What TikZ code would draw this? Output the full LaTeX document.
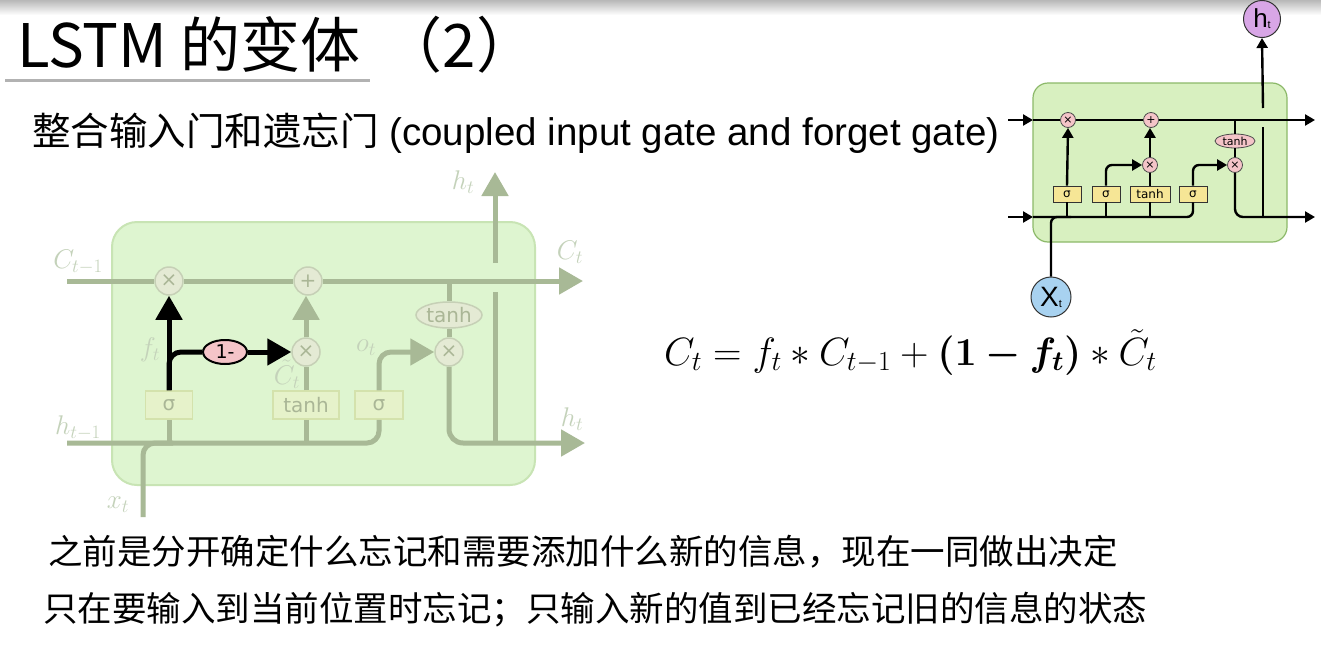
\RequirePackage{fix-cm}
\documentclass[tikz,border=0pt]{standalone}
\usepackage{fontspec}
\usepackage{amsmath,bm}
\setmainfont{Liberation Sans}
\newfontfamily\cjk{Noto Sans CJK SC}
\newfontfamily\dv{DejaVu Sans}
\usetikzlibrary{arrows.meta,shapes.geometric,calc}
\definecolor{fline}{RGB}{168,185,150}
\definecolor{flabel}{RGB}{196,210,186}
\definecolor{fbox}{RGB}{222,245,208}
\definecolor{fboxd}{RGB}{200,228,180}
\definecolor{fcircf}{RGB}{228,234,212}
\definecolor{fcircd}{RGB}{198,208,182}
\definecolor{fsig}{RGB}{230,242,202}
\definecolor{fsigd}{RGB}{212,226,172}
\definecolor{ftext}{RGB}{170,182,150}
\definecolor{pinkf}{RGB}{244,196,200}
\definecolor{sbox}{RGB}{216,240,192}
\definecolor{sboxd}{RGB}{140,185,105}
\definecolor{yel}{RGB}{246,230,150}
\definecolor{blu}{RGB}{168,210,240}
\definecolor{pur}{RGB}{216,166,230}
\tikzset{
  fl/.style={line width=5pt, draw=fline},
  fa/.style={-{Triangle[length=24pt,width=26pt]}},
  bl/.style={line width=5pt, draw=black},
  fcirc/.style={circle, draw=fcircd, fill=fcircf, line width=1.5pt, minimum size=28pt, inner sep=0pt, text=ftext, font=\dv\fontsize{20}{20}\selectfont},
  fgate/.style={rectangle, draw=fsigd, fill=fsig, line width=1.5pt, minimum height=28pt, inner sep=0pt, text=ftext, font=\dv\fontsize{20}{20}\selectfont},
  flab/.style={text=flabel, inner sep=0pt, font=\fontsize{27}{27}\selectfont},
  sl/.style={line width=2.4pt, draw=black},
  sa/.style={-{Triangle[length=10pt,width=11pt]}},
  scirc/.style={circle, draw=black!70, fill=pinkf, line width=0.8pt, minimum size=15pt, inner sep=0pt, font=\dv\fontsize{11}{11}\selectfont},
  sgate/.style={rectangle, draw=black!80, fill=yel, line width=0.8pt, minimum height=16pt, inner sep=0pt, font=\dv\fontsize{12}{12}\selectfont},
  txt/.style={anchor=west, inner sep=0pt},
}
\begin{document}
\begin{tikzpicture}[x=1pt,y=-1pt]
\useasboundingbox (0,0) rectangle (1321,645);
\fill[white] (0,0) rectangle (1321,645);
\shade[top color=black!28, bottom color=white] (0,0) rectangle (1321,15);

% title
\node[txt, font=\cjk\fontsize{60}{60}\selectfont] (title) at (17,45) {LSTM 的变体\hspace{22pt}（2）};
\coordinate (ul1) at (5,80); \coordinate (ul2) at (370,80);
\draw[line width=3pt, draw=black!30] (ul1) -- (ul2);
\node[txt, font=\fontsize{38.5}{40}\selectfont] (sub) at (32,133) {{\cjk 整合输入门和遗忘门} (coupled input gate and forget gate)};

% ===== left (faded) diagram =====
\fill[fbox, draw=fboxd, line width=2pt, rounded corners=25pt] (112,222) rectangle (535,485);
\node[fcirc] (fx1) at (169,281) {×};
\node[fcirc] (fpl) at (308,281) {+};
\node[fcirc] (fx2) at (306,352) {×};
\node[fcirc] (fx3) at (449,352) {×};
\node[ellipse, draw=fcircd, fill=fcircf, line width=1.5pt, minimum width=66pt, minimum height=26pt, inner sep=0pt, text=ftext, font=\dv\fontsize{20}{20}\selectfont] (ftn) at (449,315) {tanh};
\node[fgate, minimum width=47pt] (fsf) at (169,405) {σ};
\node[fgate, minimum width=66pt] (ftb) at (306,405) {tanh};
\node[fgate, minimum width=48pt] (fso) at (379,405) {σ};
\node[ellipse, draw=black, fill=pinkf, line width=2pt, minimum width=44pt, minimum height=24pt, inner sep=0pt, font=\dv\fontsize{19}{19}\selectfont] (fom) at (225,352) {1-};

\coordinate (fcin) at (67,281);
\coordinate (fcout) at (583,281);
\coordinate (fcj) at (449,281);
\coordinate (fhin) at (67,443);
\coordinate (fhout) at (585,443);
\coordinate (fxt) at (143,517);
\coordinate (fhv1) at (495,443);
\coordinate (fhv2) at (495,292);
\coordinate (fhv3) at (495,263);
\coordinate (fhtop) at (495,172);

\draw[fl] (fcin) -- (fx1);
\draw[fl] (fx1) -- (fpl);
\draw[fl, fa] (fpl) -- (fcout);
\draw[fl] (fcj) -- (ftn);
\draw[fl] (ftn) -- (fx3);
\draw[fl, rounded corners=12pt] (fhin) -- (fso.south |- fhin) -- (fso.south);
\draw[fl, rounded corners=12pt] (fxt) |- ($(fxt |- fhin)+(30,0)$);
\draw[fl] (fsf.south) -- (fsf.south |- fhin);
\draw[fl] (ftb.south) -- (ftb.south |- fhin);
\draw[fl] (ftb.north) -- (fx2.south);
\draw[fl, fa] (fx2.north) -- (fx2.north |- fpl.south);
\draw[fl, fa, rounded corners=12pt] (fso.north) |- (fx3.west);
\draw[fl, fa, rounded corners=14pt] (fx3.south) |- (fhout);
\draw[fl] (fhv1) -- (fhv2);
\draw[fl, fa] (fhv3) -- (fhtop);

\draw[bl, -{Triangle[length=24pt,width=26pt]}] (fsf.north) -- (fx1.south);
\draw[bl, rounded corners=12pt] (fsf.north) |- (fom.west);
\draw[bl, -{Triangle[length=24pt,width=26pt]}] (fom.east) -- (fx2.west);

\node[flab] (lc1) at (78,262) {$C_{t-1}$};
\node[flab] (lft) at (150,350) {$f_t$};
\node[flab] (lct) at (287,374) {$\tilde{C}_t$};
\node[flab] (lot) at (366,348) {$o_t$};
\node[flab] (lht) at (463,182) {$h_t$};
\node[flab] (lcto) at (570,252) {$C_t$};
\node[flab] (lh1) at (78,428) {$h_{t-1}$};
\node[flab] (lhto) at (572,419) {$h_t$};
\node[flab] (lxt) at (118,505) {$x_t$};

% ===== equation =====
\node[txt, font=\fontsize{39.5}{39.5}\selectfont] (eq) at (664,352) {$C_t = f_t * C_{t-1} + \boldsymbol{(1-f_t)} * \tilde{C}_t$};

% ===== small diagram =====
\fill[sbox, draw=sboxd, line width=1.2pt, rounded corners=15pt] (1033,83) rectangle (1287,242);
\node[scirc] (sx1) at (1068,120) {×};
\node[scirc] (spl) at (1151,120) {+};
\node[scirc] (sx2) at (1150,165) {×};
\node[scirc] (sx3) at (1235,165) {×};
\node[ellipse, draw=black!70, fill=pinkf, line width=0.8pt, minimum width=40pt, minimum height=14pt, inner sep=0pt, font=\dv\fontsize{11}{11}\selectfont] (stn) at (1235,141) {tanh};
\node[sgate, minimum width=28pt] (ss1) at (1067,194) {σ};
\node[sgate, minimum width=28pt] (ss2) at (1106,194) {σ};
\node[sgate, minimum width=40pt] (stb) at (1150,194) {tanh};
\node[sgate, minimum width=28pt] (ss3) at (1193,194) {σ};
\node[circle, draw=black!80, fill=pur, line width=1pt, minimum size=37pt, inner sep=0pt, font=\fontsize{26}{26}\selectfont] (sht) at (1262,19) {h\raisebox{-1pt}{\fontsize{11}{11}\selectfont t}};
\node[circle, draw=black!80, fill=blu, line width=1pt, minimum size=40pt, inner sep=0pt, font=\fontsize{28}{28}\selectfont] (sxt) at (1051,297) {X\raisebox{-1pt}{\fontsize{11}{11}\selectfont t}};

\coordinate (scin1) at (1008,120);
\coordinate (scin2) at (1033,120);
\coordinate (scout) at (1315,120);
\coordinate (scj) at (1235,120);
\coordinate (shin1) at (1008,217);
\coordinate (shin2) at (1033,217);
\coordinate (shout) at (1315,217);
\coordinate (shv1) at (1263,217);
\coordinate (shv2) at (1263,127);
\coordinate (shv3) at (1263,108);

\draw[sl, sa] (scin1) -- (scin2);
\draw[sl] (scin2) -- (sx1);
\draw[sl] (sx1) -- (spl);
\draw[sl, sa] (spl) -- (scout);
\draw[sl] (scj) -- (stn);
\draw[sl] (stn) -- (sx3);
\draw[sl, sa] (ss1.north) -- (sx1.south);
\draw[sl, sa, rounded corners=6pt] (ss2.north) |- (sx2.west);
\draw[sl] (stb.north) -- (sx2.south);
\draw[sl, sa] (sx2.north) -- (sx2.north |- spl.south);
\draw[sl, sa, rounded corners=6pt] (ss3.north) |- (sx3.west);
\draw[sl, sa, rounded corners=8pt] (sx3.south) |- (shout);
\draw[sl] (shv1) -- (shv2);
\draw[sl, sa] (shv3) -- (sht.south);
\draw[sl, sa] (shin1) -- (shin2);
\draw[sl, rounded corners=6pt] (shin2) -- (ss3.south |- shin2) -- (ss3.south);
\draw[sl] (ss1.south) -- (ss1.south |- shin2);
\draw[sl] (ss2.south) -- (ss2.south |- shin2);
\draw[sl] (stb.south) -- (stb.south |- shin2);
\draw[sl, rounded corners=6pt] (sxt.north) |- ($(sxt.north |- shin2)+(20,0)$);

% ===== bottom text =====
\node[txt, font=\cjk\fontsize{34.5}{36}\selectfont] (l1) at (48,552) {之前是分开确定什么忘记和需要添加什么新的信息，现在一同做出决定};
\node[txt, font=\cjk\fontsize{34.5}{36}\selectfont] (l2) at (43,610) {只在要输入到当前位置时忘记；只输入新的值到已经忘记旧的信息的状态};
\end{tikzpicture}
\end{document}
